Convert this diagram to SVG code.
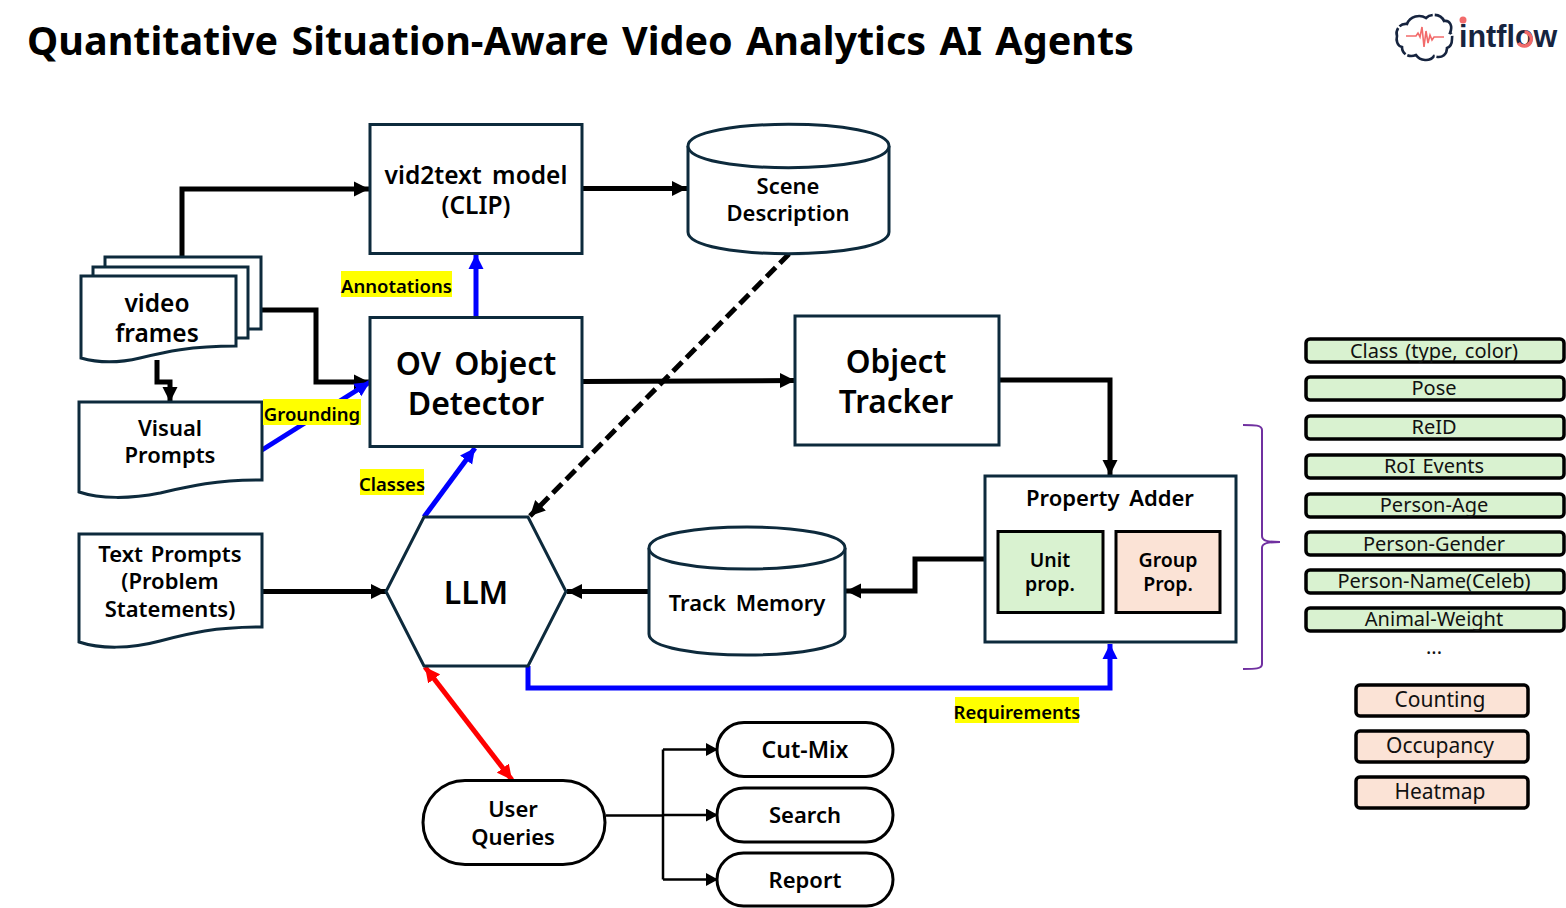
<svg xmlns="http://www.w3.org/2000/svg" width="1566" height="908" viewBox="0 0 1566 908">
<defs>
<style>
text{font-family:"Noto Sans","Open Sans","Liberation Sans",sans-serif;fill:#000;text-anchor:middle}
.n{fill:#fff;stroke:#0d2a3c;stroke-width:3}
.m{font-size:24.500px;font-weight:600;word-spacing:4px}
.l{font-size:32px;font-weight:600;word-spacing:5px}
.s{font-size:22px;font-weight:600;word-spacing:2px}
.u{font-size:19.500px;font-weight:600}
.y{font-size:18.500px;font-weight:600}
.hl{fill:#ffff00}
.c{fill:none;stroke:#000;stroke-width:5}
.t{fill:none;stroke:#000;stroke-width:2.500}
.b{fill:none;stroke:#0000ff;stroke-width:5}
.g{fill:#d9f2d0;stroke:#000;stroke-width:3.500}
.o{fill:#fbe3d6;stroke:#000;stroke-width:3.500}
.gt{font-size:20px;fill:#111;word-spacing:2px}
.ot{font-size:21px;fill:#111}
.pill{fill:#fff;stroke:#000;stroke-width:3}
</style>
<marker id="ak" markerUnits="userSpaceOnUse" markerWidth="16" markerHeight="16" refX="15" refY="8" orient="auto"><path d="M0 0.500L15 8L0 15.500z" fill="#000"/></marker>
<marker id="as" markerUnits="userSpaceOnUse" markerWidth="12" markerHeight="13" refX="11" refY="6.500" orient="auto"><path d="M0 0L12 6.500L0 13z" fill="#000"/></marker>
<marker id="ab" markerUnits="userSpaceOnUse" markerWidth="16" markerHeight="16" refX="15" refY="8" orient="auto"><path d="M0 0.500L15 8L0 15.500z" fill="#0000ff"/></marker>
<marker id="ar" markerUnits="userSpaceOnUse" markerWidth="16" markerHeight="16" refX="15" refY="8" orient="auto-start-reverse"><path d="M0 0.500L15 8L0 15.500z" fill="#ff0000"/></marker>
</defs>
<rect width="1566" height="908" fill="#fff"/>
<text x="580.500" y="55" style="font-size:39.500px;font-weight:700;word-spacing:3px">Quantitative Situation-Aware Video Analytics AI Agents</text>

<g id="logo">
<path d="M1407 24c3-8 13-10 19-6 5-5 15-4 18 3 6-1 9 5 6 12 3 1 2 4 2 6 0 5-2 8-5 9 0 7-6 11-13 8-4 6-14 5-18-1-7 3-14-1-14-8-5-1-6-7-5-11-2-6 3-13 10-12z" fill="none" stroke="#16243f" stroke-width="2.600" stroke-dasharray="30 2"/>
<path d="M1406 36h10l2-3 2 4 2-10 2 20 2-16 2 12 2-8 2 5 2-3h10" fill="none" stroke="#f26b6b" stroke-width="1.600"/>
<text x="1459" y="47" style="font-family:'Liberation Sans',sans-serif;font-size:30.500px;font-weight:700;fill:#16243f;text-anchor:start">intflow</text>
<circle cx="1463" cy="20" r="3.500" fill="#f26b6b"/>
<path d="M1524.500 32a7 7 0 1 1-6 11" fill="none" stroke="#f26b6b" stroke-width="3.500"/>
</g>

<g id="connectors">
<path class="c" d="M182 257V189H369" marker-end="url(#ak)"/>
<path class="c" d="M582 188.500H687" marker-end="url(#ak)"/>
<path class="c" d="M261 310H316V382H369" marker-end="url(#ak)"/>
<path class="c" d="M157 360V382H170V402" marker-end="url(#ak)"/>
<path class="b" d="M262 450L370 382" marker-end="url(#ab)"/>
<path class="b" d="M476 317V254" marker-end="url(#ab)"/>
<path class="c" d="M582 381.500L795 380.500" marker-end="url(#ak)"/>
<path class="c" d="M999 380H1110V475" marker-end="url(#ak)"/>
<path class="c" d="M789 254L530 516" stroke-dasharray="13 6" marker-end="url(#ak)"/>
<path class="b" d="M424 517L475 448" marker-end="url(#ab)"/>
<path class="c" d="M262 591.500H386" marker-end="url(#ak)"/>
<path class="c" d="M648 591.500H567" marker-end="url(#ak)"/>
<path class="c" d="M984 559H915V591H846" marker-end="url(#ak)"/>
<path class="b" d="M528 666V688H1110V644" marker-end="url(#ab)"/>
<path d="M425 667L512 780" fill="none" stroke="#ff0000" stroke-width="5" marker-start="url(#ar)" marker-end="url(#ar)"/>
<path class="t" d="M606 815.500H663M663 749.500V879.500"/>
<path class="t" d="M663 749.500H717" marker-end="url(#as)"/>
<path class="t" d="M663 815H717" marker-end="url(#as)"/>
<path class="t" d="M663 879.500H717" marker-end="url(#as)"/>
</g>

<g id="vid2text"><rect class="n" x="370" y="124.500" width="212" height="129"/><text class="m"><tspan x="476" y="184">vid2text model</tspan><tspan x="476" y="214">(CLIP)</tspan></text></g>

<g id="scene"><path class="n" d="M688 146C688 117 889 117 889 146V232C889 261 688 261 688 232Z"/><path class="n" d="M688 146C688 175 889 175 889 146" fill="none"/><text class="s"><tspan x="788" y="194">Scene</tspan><tspan x="788" y="221">Description</tspan></text></g>

<g id="video-frames">
<path class="n" d="M105 257H261V329H105Z"/>
<path class="n" d="M93 267H248V338H93Z"/>
<path class="n" d="M81 276H236V346C190 346 165 352 140 358C115 364 95 362 81 358Z"/>
<text class="m"><tspan x="157" y="312">video</tspan><tspan x="157" y="342">frames</tspan></text>
</g>

<g id="visual-prompts"><path class="n" d="M79 402H262V480C215 480 190 486 160 493C130 499 100 499 79 492Z"/><text class="s"><tspan x="170" y="436">Visual</tspan><tspan x="170" y="463">Prompts</tspan></text></g>

<g id="ov-detector"><rect class="n" x="370" y="317.500" width="212" height="129"/><text class="l"><tspan x="476" y="375">OV Object</tspan><tspan x="476" y="415">Detector</tspan></text></g>

<g id="tracker"><rect class="n" x="795" y="316" width="204" height="129"/><text class="l" style="font-size:31.500px"><tspan x="896" y="373">Object</tspan><tspan x="896" y="413">Tracker</tspan></text></g>

<g id="text-prompts"><path class="n" d="M79 534H262V627C215 627 190 633 160 641C130 649 100 649 79 642Z"/><text class="s"><tspan x="170" y="562">Text Prompts</tspan><tspan x="170" y="589">(Problem</tspan><tspan x="170" y="617">Statements)</tspan></text></g>

<g id="llm"><path class="n" d="M424 517H528L566 591.500L528 666H424L386 591.500Z"/><text class="l" x="476" y="604">LLM</text></g>

<g id="track-memory"><path class="n" d="M649 548C649 520 845 520 845 548V634C845 662 649 662 649 634Z"/><path class="n" d="M649 548C649 576 845 576 845 548" fill="none"/><text class="s" x="747" y="611" style="word-spacing:4px">Track Memory</text></g>

<g id="property-adder"><rect class="n" x="985" y="476" width="251" height="166"/><text class="s" x="1110" y="506" style="word-spacing:4px">Property Adder</text>
<rect x="998" y="531.500" width="105" height="81" fill="#d9f2d0" stroke="#000" stroke-width="3"/><text class="u"><tspan x="1050" y="567">Unit</tspan><tspan x="1050" y="591">prop.</tspan></text>
<rect x="1116" y="531.500" width="104" height="81" fill="#fbe3d6" stroke="#000" stroke-width="3"/><text class="u"><tspan x="1168" y="567">Group</tspan><tspan x="1168" y="591">Prop.</tspan></text></g>

<g id="brace"><path d="M1243 425C1255 425 1262 425 1262 430V536C1262 541 1268 542 1280 542C1268 542 1262 543 1262 548V664C1262 669 1255 669 1243 669" fill="none" stroke="#7030a0" stroke-width="2"/></g>

<g id="user-queries"><rect class="pill" x="423" y="780.500" width="182" height="84" rx="42"/><text class="s"><tspan x="513" y="817">User</tspan><tspan x="513" y="845">Queries</tspan></text></g>
<g id="cut-mix"><rect class="pill" x="717" y="722.500" width="176" height="54" rx="27"/><text class="s" x="805" y="758" style="font-size:23px">Cut-Mix</text></g>
<g id="search"><rect class="pill" x="717" y="788" width="176" height="54" rx="27"/><text class="s" x="805" y="823">Search</text></g>
<g id="report"><rect class="pill" x="717" y="853" width="176" height="53" rx="26.500"/><text class="s" x="805" y="888">Report</text></g>

<g id="label-annotations"><rect class="hl" x="341" y="271" width="111" height="26"/><text class="y" x="396.500" y="293">Annotations</text></g>
<g id="label-grounding"><rect class="hl" x="263" y="399" width="98" height="26"/><text class="y" x="312" y="421">Grounding</text></g>
<g id="label-classes"><rect class="hl" x="360" y="469" width="64" height="26"/><text class="y" x="392" y="491">Classes</text></g>
<g id="label-requirements"><rect class="hl" x="955" y="697" width="124" height="26"/><text class="y" x="1017" y="719">Requirements</text></g>

<g id="prop-class"><rect class="g" x="1306" y="339" width="258" height="23" rx="4"/><text class="gt" x="1434" y="358">Class (type, color)</text></g>
<g id="prop-pose"><rect class="g" x="1306" y="377" width="258" height="23" rx="4"/><text class="gt" x="1434" y="395">Pose</text></g>
<g id="prop-reid"><rect class="g" x="1306" y="416" width="258" height="23" rx="4"/><text class="gt" x="1434" y="434">ReID</text></g>
<g id="prop-roi"><rect class="g" x="1306" y="455" width="258" height="23" rx="4"/><text class="gt" x="1434" y="473">RoI Events</text></g>
<g id="prop-age"><rect class="g" x="1306" y="494" width="258" height="23" rx="4"/><text class="gt" x="1434" y="512">Person-Age</text></g>
<g id="prop-gender"><rect class="g" x="1306" y="532" width="258" height="23" rx="4"/><text class="gt" x="1434" y="551">Person-Gender</text></g>
<g id="prop-name"><rect class="g" x="1306" y="570" width="258" height="23" rx="4"/><text class="gt" x="1434" y="588">Person-Name(Celeb)</text></g>
<g id="prop-weight"><rect class="g" x="1306" y="608" width="258" height="23" rx="4"/><text class="gt" x="1434" y="626">Animal-Weight</text></g>
<text class="gt" x="1434" y="654">...</text>
<g id="counting"><rect class="o" x="1356" y="685" width="172" height="31" rx="4"/><text class="ot" x="1440" y="707">Counting</text></g>
<g id="occupancy"><rect class="o" x="1356" y="731" width="172" height="31" rx="4"/><text class="ot" x="1440" y="753">Occupancy</text></g>
<g id="heatmap"><rect class="o" x="1356" y="777" width="172" height="31" rx="4"/><text class="ot" x="1440" y="799">Heatmap</text></g>
</svg>
